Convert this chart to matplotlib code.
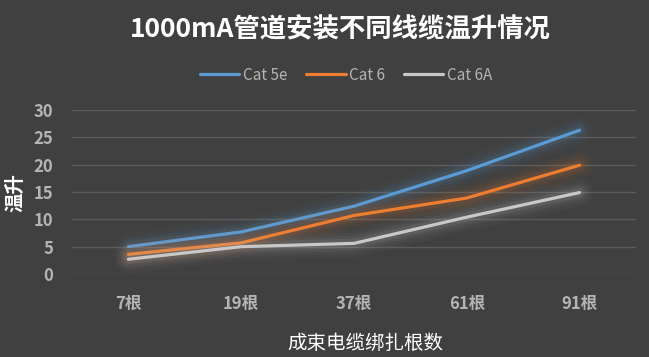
import matplotlib
matplotlib.use("Agg")
import matplotlib.pyplot as plt
import matplotlib.patheffects as pe

plt.rcParams['font.family'] = ['Noto Sans CJK SC', 'DejaVu Sans']

categories = ["7根", "19根", "37根", "61根", "91根"]
series_names = ["Cat 5e", "Cat 6", "Cat 6A"]
cat5e = [5.0, 7.7, 12.4, 18.9, 26.3]
cat6 = [3.6, 5.7, 10.7, 13.9, 19.9]
cat6a = [2.7, 5.0, 5.6, 10.4, 14.9]
yticks = [0, 5, 10, 15, 20, 25, 30]
colors = ["#5B9BD5", "#ED7D31", "#C8C8C8"]
title = "1000mA管道安装不同线缆温升情况"
xlabel = "成束电缆绑扎根数"
ylabel = "温升"

bg = "#404040"
fig = plt.figure(figsize=(6.49, 3.57), dpi=100, facecolor=bg)
ax = fig.add_axes([72/649, 1 - 274/357, (636-72)/649, (274-110)/357])
ax.set_facecolor(bg)

x = list(range(len(categories)))
for data, name, c in zip([cat5e, cat6, cat6a], series_names, colors):
    glow = [pe.Stroke(linewidth=w, foreground=c, alpha=a)
            for w, a in [(20, 0.03), (15, 0.04), (11, 0.06), (7, 0.1)]]
    ax.plot(x, data, color=c, lw=2.3, label=name, solid_capstyle='round',
            path_effects=glow + [pe.Normal()], zorder=3)

ax.set_xlim(-0.5, 4.5)
ax.set_ylim(0, 30)
ax.set_yticks(yticks)
ax.set_xticks(x)
ax.set_xticklabels(categories)
ax.grid(axis='y', color='#5A5A5A', lw=1)
ax.set_axisbelow(True)
for s in ax.spines.values():
    s.set_visible(False)
ax.tick_params(length=0, colors='#B4B4B4', labelsize=12)
for lbl in ax.get_xticklabels() + ax.get_yticklabels():
    lbl.set_fontweight('bold')
ax.tick_params(axis='y', pad=13.5)
ax.tick_params(axis='x', pad=15)

fig.text(340/649, 1 - 30/357, title, color='white', fontsize=19, fontweight='bold',
         ha='center', va='center')
fig.text(365/649, 1 - 343/357, xlabel, color='white', fontsize=14,
         ha='center', va='center')
fig.text(15.5/649, 1 - 193/357, ylabel, color='white', fontsize=14, fontweight='bold',
         rotation=90, ha='center', va='center')

leg = ax.legend(loc='center', bbox_to_anchor=(346/649, 1 - 75/357), bbox_transform=fig.transFigure,
                ncol=3, frameon=False, fontsize=11, handlelength=2.6, handletextpad=0.25,
                columnspacing=1.2)
for t in leg.get_texts():
    t.set_color('#B4B4B4')
for h in leg.get_lines():
    h.set_path_effects([])
    h.set_linewidth(2.3)

fig.savefig("out.png", dpi=100, facecolor=bg)
